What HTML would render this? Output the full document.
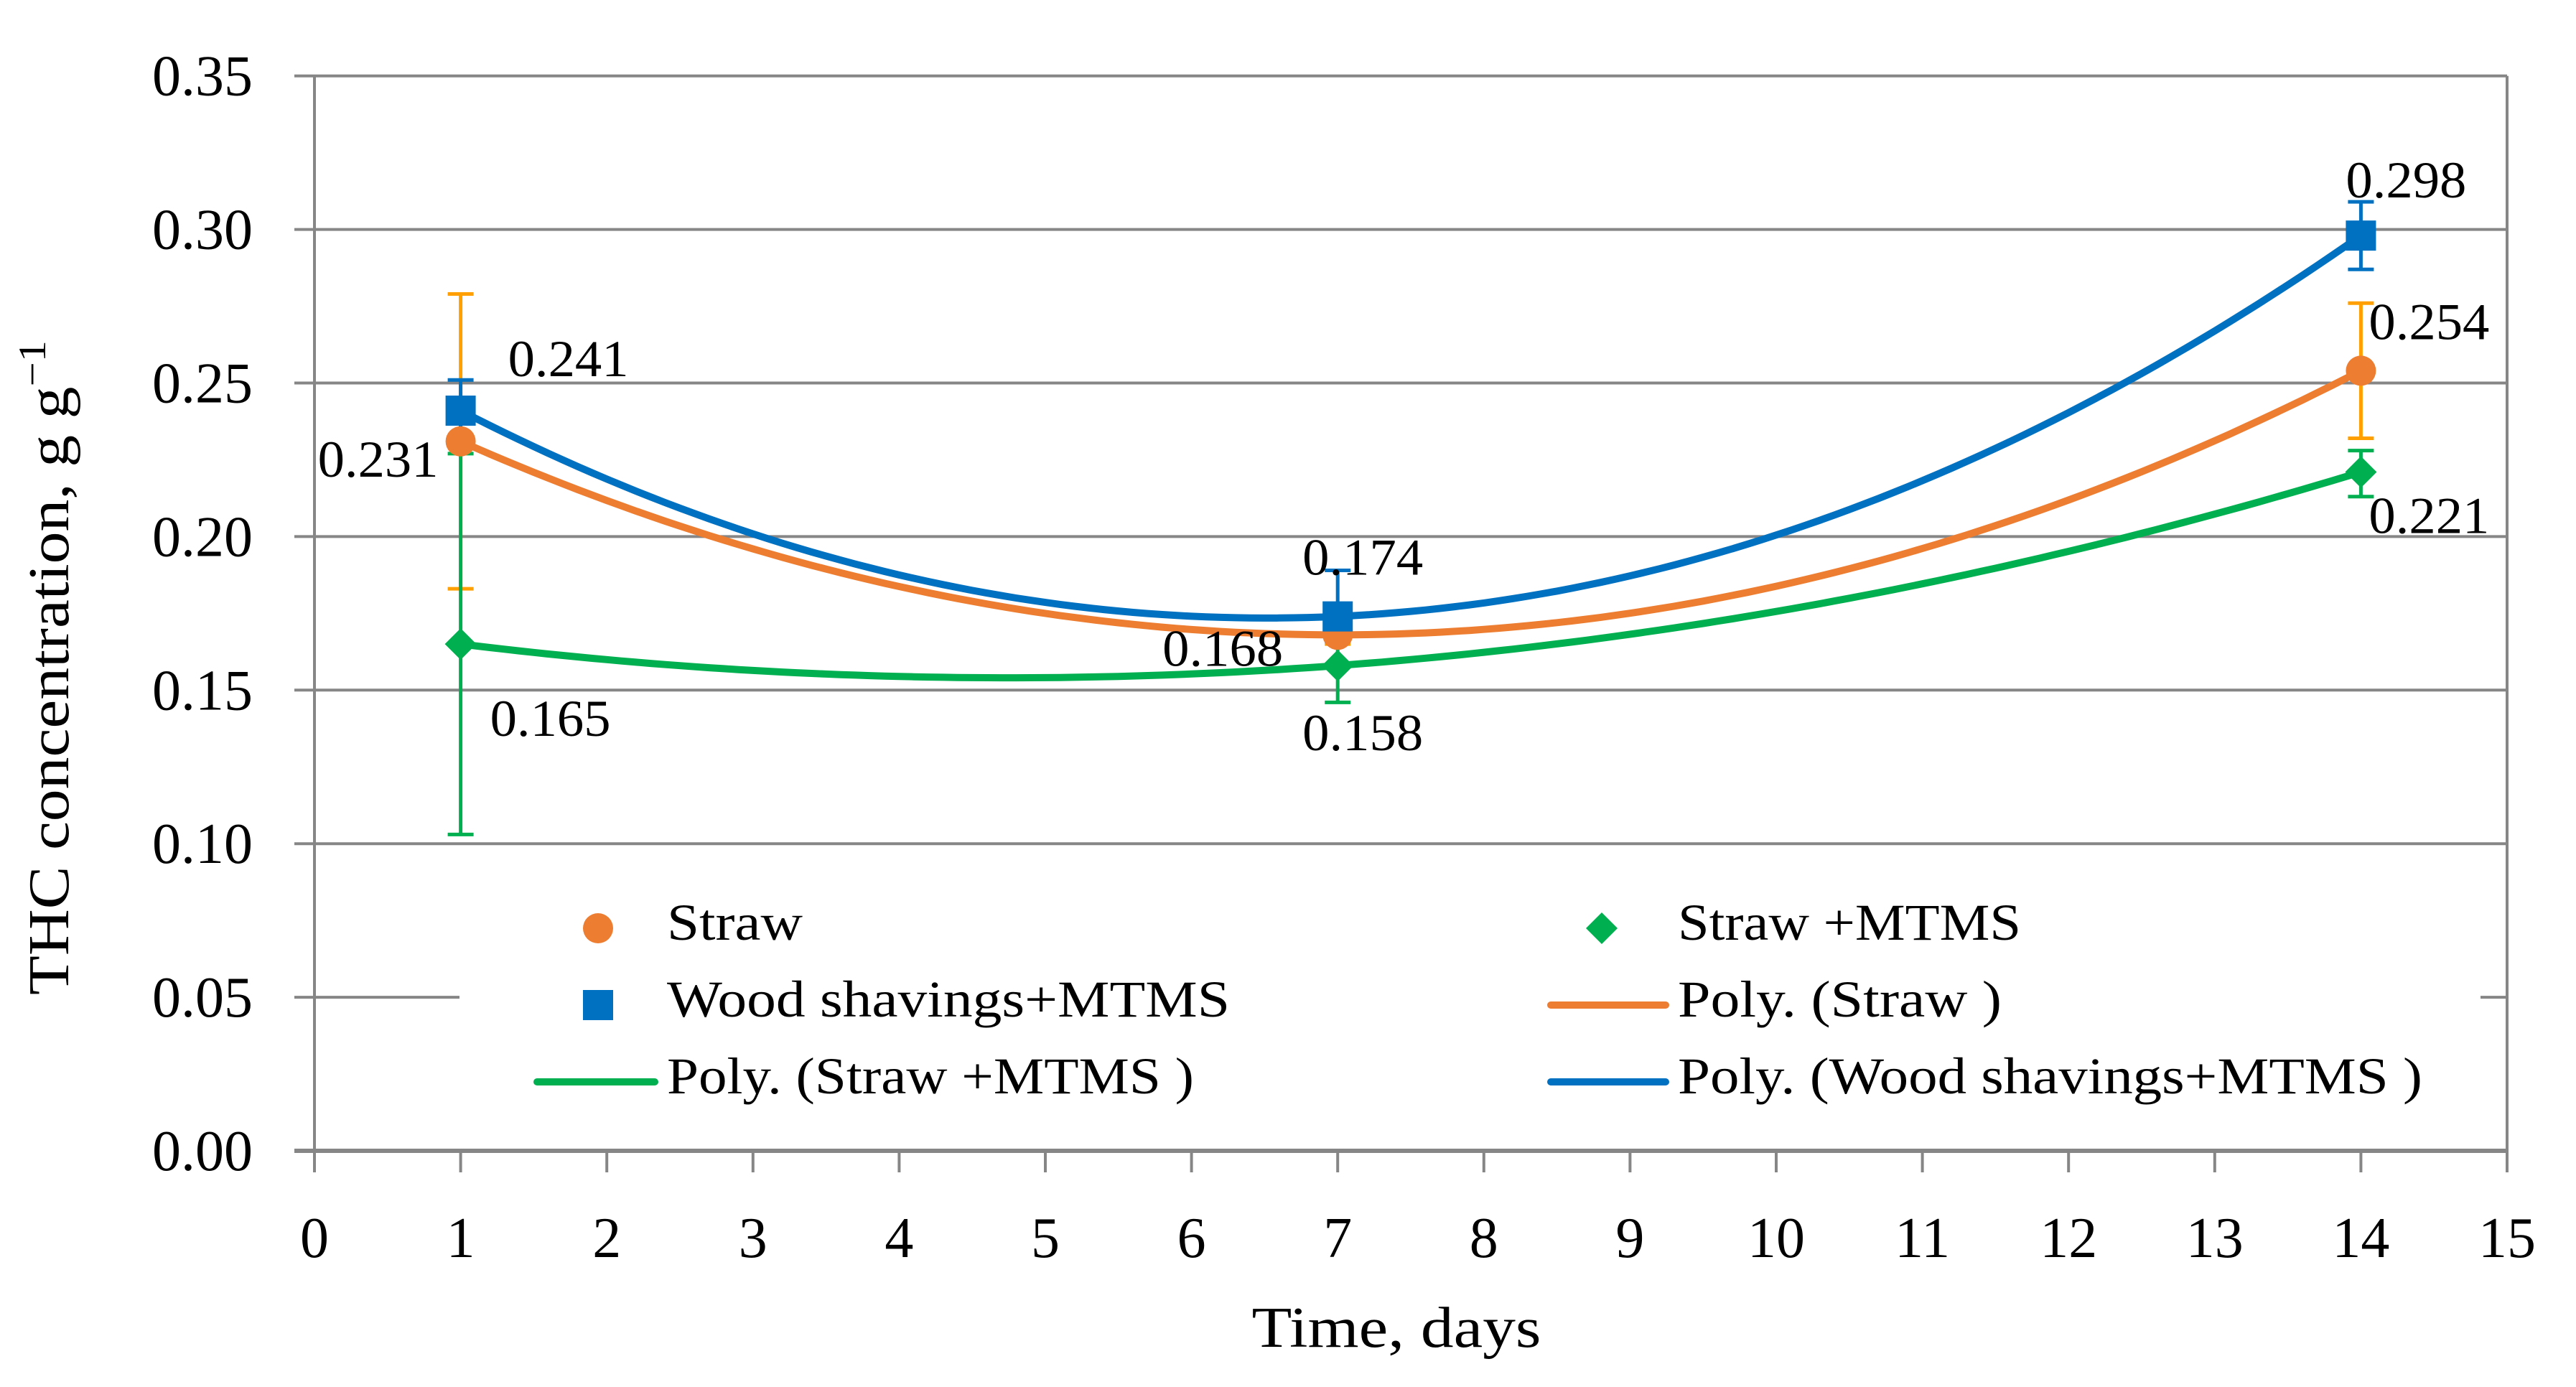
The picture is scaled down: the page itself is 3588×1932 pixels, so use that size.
<!DOCTYPE html>
<html><head><meta charset="utf-8">
<style>
html,body{margin:0;padding:0;background:#fff;}
svg{display:block;font-family:"Liberation Serif",serif;}
</style></head>
<body>
<svg id="chart" width="3588" height="1932" viewBox="0 0 3588 1932" xmlns="http://www.w3.org/2000/svg"></svg>
<script>
const days = [1, 7, 14];
const straw = [0.231, 0.168, 0.254];
const strawErrUp = [0.048, 0.003, 0.022];
const strawErrDown = [0.048, 0.003, 0.022];
const wood = [0.241, 0.174, 0.298];
const woodErrUp = [0.010, 0.015, 0.011];
const woodErrDown = [0.010, 0.008, 0.011];
const mtms = [0.165, 0.158, 0.221];
const mtmsErrUp = [0.062, 0.008, 0.007];
const mtmsErrDown = [0.062, 0.012, 0.008];
const xTicks = [0,1,2,3,4,5,6,7,8,9,10,11,12,13,14,15];
const yTicks = [0,0.05,0.10,0.15,0.20,0.25,0.30,0.35];

const NS = "http://www.w3.org/2000/svg";
const svg = document.getElementById('chart');
const X0 = 438, XU = 203.6, Y0 = 1603, YU = 213.9/0.05;
function sx(v){ return X0 + v*XU; }
function sy(v){ return Y0 - v*YU; }
function el(tag, attrs, parent){
  const e = document.createElementNS(NS, tag);
  for (const k in attrs) e.setAttribute(k, attrs[k]);
  (parent||svg).appendChild(e);
  return e;
}
const gray = '#868686';
yTicks.forEach((t,i)=>{
  const g = el('line',{x1:410,x2:sx(15),y1:sy(t),y2:sy(t),stroke:gray,'stroke-width':i===0?6:4});
  
  
  const lb = el('text',{x:352,y:sy(t)+27,'text-anchor':'end','font-size':80});
  lb.textContent = t.toFixed(2);
  
  
});
const ya = el('line',{x1:X0,x2:X0,y1:sy(0.35),y2:Y0+30,stroke:gray,'stroke-width':4});


const rb = el('line',{x1:sx(15),x2:sx(15),y1:sy(0.35),y2:Y0+30,stroke:gray,'stroke-width':4});


xTicks.forEach(t=>{
  const tk = el('line',{x1:sx(t),x2:sx(t),y1:Y0,y2:Y0+30,stroke:gray,'stroke-width':4});
  
  
  const lb = el('text',{x:sx(t),y:1751,'text-anchor':'middle','font-size':80});
  lb.textContent = t;
  
  
});
const xt = el('text',{x:1945,y:1876,'text-anchor':'middle','font-size':80,textLength:403,lengthAdjust:'spacingAndGlyphs'});
xt.textContent = 'Time, days';


const yt = el('text',{x:0,y:0,'text-anchor':'middle','font-size':80,textLength:912,lengthAdjust:'spacingAndGlyphs',transform:'translate(95,930) rotate(-90)'});
yt.innerHTML = 'THC concentration, g g<tspan dy="-32" font-size="54">−1</tspan>';



const lg = el('g',{});


el('rect',{x:640,y:1235,width:2815,height:330,fill:'#fff'},lg);

function quad(ys){
  const [x1,x2,x3]=days,[y1,y2,y3]=ys;
  const d=(x1-x2)*(x1-x3)*(x2-x3);
  const a=(x3*(y2-y1)+x2*(y1-y3)+x1*(y3-y2))/d;
  const b=(x3*x3*(y1-y2)+x2*x2*(y3-y1)+x1*x1*(y2-y3))/d;
  const c=(x2*x3*(x2-x3)*y1+x3*x1*(x3-x1)*y2+x1*x2*(x1-x2)*y3)/d;
  return x=>a*x*x+b*x+c;
}
function trend(ys,color,name){
  const f=quad(ys); let d='';
  for(let i=0;i<=130;i++){const x=days[0]+(days[2]-days[0])*i/130; d+=(i?'L':'M')+sx(x).toFixed(1)+','+sy(f(x)).toFixed(1);}
  const p=el('path',{d:d,fill:'none',stroke:color,'stroke-width':10,'stroke-linecap':'round'});
  
  
}
function errs(ys,up,dn,color,name){
  ys.forEach((v,i)=>{
    const g=el('g',{stroke:color,'stroke-width':5});
    
    
    const x=sx(days[i]);
    el('line',{x1:x,x2:x,y1:sy(v+up[i]),y2:sy(v-dn[i])},g);
    el('line',{x1:x-18,x2:x+18,y1:sy(v+up[i]),y2:sy(v+up[i])},g);
    el('line',{x1:x-18,x2:x+18,y1:sy(v-dn[i]),y2:sy(v-dn[i])},g);
  });
}
errs(straw,strawErrUp,strawErrDown,'#FFA000','straw-error-bar');
errs(wood,woodErrUp,woodErrDown,'#0070C0','wood-error-bar');
errs(mtms,mtmsErrUp,mtmsErrDown,'#00B050','mtms-error-bar');
trend(mtms,'#00B050','poly-straw-mtms-line');
trend(straw,'#ED7D31','poly-straw-line');
trend(wood,'#0070C0','poly-wood-line');
function square(cx,cy,c){return el('rect',{x:cx-21,y:cy-21,width:42,height:42,fill:c});}
function circle(cx,cy,c){return el('circle',{cx:cx,cy:cy,r:21,fill:c});}
function diamond(cx,cy,c){return el('path',{d:`M${cx},${cy-22}L${cx+22},${cy}L${cx},${cy+22}L${cx-22},${cy}Z`,fill:c});}
straw.forEach((v,i)=>{const m=circle(sx(days[i]),sy(v),'#ED7D31');
  
  });
wood.forEach((v,i)=>{const m=square(sx(days[i]),sy(v),'#0070C0');
  
  });
mtms.forEach((v,i)=>{const m=diamond(sx(days[i]),sy(v),'#00B050');
  
  });

const labelOffsets = {straw:[[-115,24],[-160,18],[95,-69]], wood:[[150,-73],[35,-83],[63,-78]], mtms:[[125,103],[35,93],[95,60]]};
function labels(ys,key){
  ys.forEach((v,i)=>{
    const o=labelOffsets[key][i];
    const t=el('text',{x:sx(days[i])+o[0],y:sy(v)+o[1]+25,'text-anchor':'middle','font-size':72,textLength:168,lengthAdjust:'spacingAndGlyphs'});
    t.textContent=v.toFixed(3);
    
    
  });
}
labels(straw,'straw'); labels(wood,'wood'); labels(mtms,'mtms');

function ltext(x,y,s,w){const t=el('text',{x:x,y:y+25,'font-size':72,textLength:w,lengthAdjust:'spacingAndGlyphs'},lg);t.textContent=s;
  
  }
circle(833,1293,'#ED7D31'); lg.appendChild(svg.lastChild); ltext(929,1284,'Straw',189);
diamond(2231,1293,'#00B050'); lg.appendChild(svg.lastChild); ltext(2337,1284,'Straw +MTMS',478);
square(833,1400,'#0070C0'); lg.appendChild(svg.lastChild); ltext(929,1391,'Wood shavings+MTMS',784);
el('line',{x1:2160,x2:2320,y1:1400,y2:1400,stroke:'#ED7D31','stroke-width':10,'stroke-linecap':'round'},lg); ltext(2337,1391,'Poly. (Straw )',451);
el('line',{x1:748,x2:912,y1:1507,y2:1507,stroke:'#00B050','stroke-width':10,'stroke-linecap':'round'},lg); ltext(929,1498,'Poly. (Straw +MTMS )',734);
el('line',{x1:2160,x2:2320,y1:1507,y2:1507,stroke:'#0070C0','stroke-width':10,'stroke-linecap':'round'},lg); ltext(2337,1498,'Poly. (Wood shavings+MTMS )',1037);
</script>
</body></html>
